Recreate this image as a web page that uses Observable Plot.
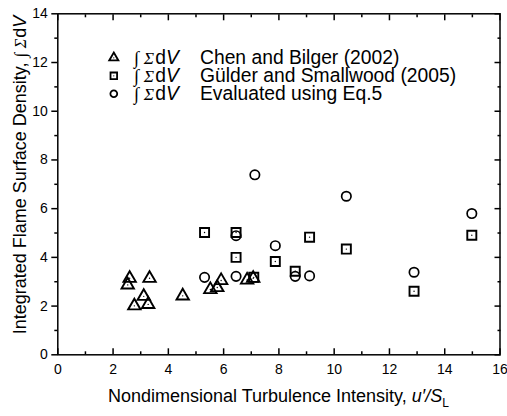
<!DOCTYPE html>
<html><head><meta charset="utf-8">
<script src="https://cdn.jsdelivr.net/npm/d3@7"></script>
<script src="https://cdn.jsdelivr.net/npm/@observablehq/plot@0.6"></script>
<style>
body{margin:0;background:#fff}
#chart{position:relative;width:507px;height:416px}
svg text{font-family:"Liberation Sans",Arial,Helvetica,sans-serif}
</style>
</head><body><div id="chart"></div>
<script>
// Chen and Bilger (2002)
const chenX = [2.60, 2.53, 3.32, 3.11, 2.77, 3.27, 4.52, 5.52, 5.77, 5.91, 6.85, 7.07];
const chenY = [3.14, 2.87, 3.14, 2.40, 2.01, 2.07, 2.42, 2.68, 2.76, 3.05, 3.07, 3.14];
// Gülder and Smallwood (2005)
const gulderX = [5.31, 6.45, 6.45, 7.09, 7.87, 8.59, 9.11, 10.44, 12.89, 14.98];
const gulderY = [5.02, 5.02, 4.00, 3.18, 3.83, 3.43, 4.83, 4.34, 2.61, 4.91];
// Evaluated using Eq.5
const evalX = [5.31, 6.45, 6.45, 7.13, 7.87, 8.59, 9.11, 10.44, 12.89, 14.98];
const evalY = [3.18, 3.22, 4.89, 7.39, 4.48, 3.22, 3.24, 6.51, 3.39, 5.80];

const seriesNames = ["Chen and Bilger (2002)", "Gülder and Smallwood (2005)", "Evaluated using Eq.5"];
const seriesSymbols = ["triangle", "square", "circle"];
const xTicks = [0, 2, 4, 6, 8, 10, 12, 14, 16];
const xMinor = [1, 3, 5, 7, 9, 11, 13, 15];
const yTicks = [0, 2, 4, 6, 8, 10, 12, 14];
const yMinor = [1, 3, 5, 7, 9, 11, 13];
const xLabelText = "Nondimensional Turbulence Intensity, ";
const yLabelText = "Integrated Flame Surface Density, ";

const toRows = (xs, ys) => xs.map((x, i) => ({x, y: ys[i]}));
const chen = toRows(chenX, chenY);
const gulder = toRows(gulderX, gulderY);
const evald = toRows(evalX, evalY);

const W = 507, H = 416;
const M = {top: 13.3, right: 7.5, bottom: 61.7, left: 57.3};
const SW = 1.5;
const blank = () => "";

const plot = Plot.plot({
  width: W, height: H,
  marginTop: M.top, marginRight: M.right, marginBottom: M.bottom, marginLeft: M.left,
  style: {fontFamily: '"Liberation Sans", Arial, sans-serif', fontSize: "14px", color: "black", background: "white"},
  x: {domain: [0, 16]},
  y: {domain: [0, 14]},
  marks: [
    // bottom: inward ticks + labels
    Plot.axisX({ticks: xTicks, anchor: "bottom", tickSize: 6, dy: -6, tickFormat: blank, label: null, strokeWidth: SW}),
    Plot.axisX({ticks: xMinor, anchor: "bottom", tickSize: 3, dy: -3, tickFormat: blank, label: null, strokeWidth: SW}),
    Plot.axisX({ticks: xTicks, anchor: "bottom", tickSize: 0, tickPadding: 9, label: null, fontSize: 14}),
    // top: inward ticks
    Plot.axisX({ticks: xTicks, anchor: "top", tickSize: 6, dy: 6, tickFormat: blank, label: null, strokeWidth: SW}),
    Plot.axisX({ticks: xMinor, anchor: "top", tickSize: 3, dy: 3, tickFormat: blank, label: null, strokeWidth: SW}),
    // left: outward ticks + labels
    Plot.axisY({ticks: yTicks, anchor: "left", tickSize: 6, tickPadding: 4, label: null, strokeWidth: SW, fontSize: 14}),
    Plot.axisY({ticks: yMinor, anchor: "left", tickSize: 3, tickFormat: blank, label: null, strokeWidth: SW}),
    // right: inward ticks
    Plot.axisY({ticks: yTicks, anchor: "right", tickSize: 6, dx: -6, tickFormat: blank, label: null, strokeWidth: SW}),
    Plot.axisY({ticks: yMinor, anchor: "right", tickSize: 3, dx: -3, tickFormat: blank, label: null, strokeWidth: SW}),
    Plot.frame({stroke: "black", strokeWidth: SW}),
    // data
    Plot.dot(chen, {x: "x", y: "y", symbol: "triangle", r: 4.6, stroke: "black", strokeWidth: 1.9, fill: "none"}),
    Plot.dot(chen, {x: "x", y: "y", r: 0.7, fill: "black", stroke: "none"}),
    Plot.dot(gulder, {x: "x", y: "y", symbol: "square", r: 5.1, stroke: "black", strokeWidth: 1.9, fill: "none"}),
    Plot.dot(gulder, {x: "x", y: "y", r: 0.7, fill: "black", stroke: "none"}),
    Plot.dot(evald, {x: "x", y: "y", symbol: "circle", r: 4.7, stroke: "black", strokeWidth: 1.7, fill: "none"}),
    // legend symbols
    ...seriesSymbols.map((s, i) => Plot.dot([s], {
      frameAnchor: "top-left", dx: 56, dy: 44 + i * 18, symbol: d => d,
      r: s === "square" ? 3.7 : 3.4, stroke: "black", strokeWidth: 1.8, fill: "none"
    })),
    ...seriesSymbols.filter(s => s !== "circle").map((s) => Plot.dot([s], {
      frameAnchor: "top-left", dx: 56, dy: 44 + seriesSymbols.indexOf(s) * 18, r: 0.6, fill: "black", stroke: "none"
    }))
  ]
});

document.getElementById("chart").appendChild(plot);
const svg = d3.select(plot);
const sans = '"Liberation Sans", Arial, sans-serif';
const serif = '"Liberation Serif", "DejaVu Serif", serif';

function formula(t, size) {
  t.append("tspan").attr("font-family", serif).attr("font-size", size * 0.95).text("\u222B");
  t.append("tspan").attr("dx", size * 0.25).attr("font-family", serif).attr("font-style", "italic")
    .attr("font-size", size * 0.9).text("\u03A3");
  t.append("tspan").attr("dx", 1).attr("font-family", sans).text("d");
  t.append("tspan").attr("font-family", sans).attr("font-style", "italic").text("V");
}

// legend text
const LF = 19.3;
seriesNames.forEach((name, i) => {
  const yb = M.top + 44 + i * 18 + 6.8;
  const t = svg.append("text").attr("x", 134).attr("y", yb).attr("font-size", LF).attr("fill", "black")
    .attr("text-anchor", "start");
  formula(t, LF);
  svg.append("text").attr("x", 200).attr("y", yb).attr("font-size", LF).attr("fill", "black")
    .attr("text-anchor", "start").attr("font-family", sans).text(name);
});

// x label
const xl = svg.append("text").attr("x", (M.left + W - M.right) / 2).attr("y", 402)
  .attr("text-anchor", "middle").attr("font-size", 18).attr("fill", "black").attr("font-family", sans);
xl.append("tspan").text(xLabelText);
xl.append("tspan").attr("font-style", "italic").text("u\u2032/S");
xl.append("tspan").attr("font-size", 12).attr("dy", 5).text("L");

// y label
const yl = svg.append("text").attr("transform", "translate(26,175) rotate(-90)")
  .attr("text-anchor", "middle").attr("font-size", 18).attr("fill", "black").attr("font-family", sans);
yl.append("tspan").text(yLabelText);
formula(yl, 18);
</script>
</body></html>
